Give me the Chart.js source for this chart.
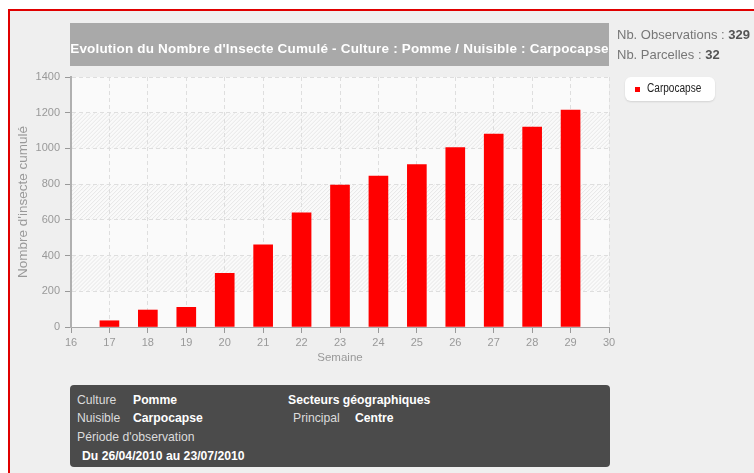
<!DOCTYPE html>
<html>
<head>
<meta charset="utf-8">
<script src="https://cdn.jsdelivr.net/npm/chart.js@4"></script>
<style>
  html, body { margin:0; padding:0; background:#ffffff; }
  body { width:754px; height:473px; position:relative; overflow:hidden; font-family:"Liberation Sans", Arial, sans-serif; }
  #frame { position:absolute; left:8px; top:9px; width:800px; height:500px; border-left:2px solid #e00000; border-top:2px solid #e00000; background:#efefef; }
  #cv { position:absolute; left:0; top:0; }
  #title { position:absolute; left:70px; top:23px; width:539px; height:43px; background:#a9a9a9; color:#fff; font-weight:bold; font-size:13.5px; line-height:51px; text-align:center; white-space:nowrap; letter-spacing:0.18px; }
  #stats { position:absolute; left:617px; top:25px; font-size:13px; color:#777; line-height:20px; white-space:nowrap; }
  #stats b { color:#555; }
  #legend { position:absolute; left:625px; top:77px; width:90px; height:24px; background:#fff; border-radius:6px; box-shadow:0 1px 2px rgba(0,0,0,0.12); font-size:12px; color:#222; }
  #legend .sw { position:absolute; left:10px; top:10px; width:5px; height:5px; }
  #legend .lt { position:absolute; left:22px; top:4px; transform:scaleX(0.84); transform-origin:left center; white-space:nowrap; }
  #info { position:absolute; left:70px; top:385px; width:540px; height:82px; background:#4b4b4b; border-radius:4px; font-size:12.2px; color:#dcdcdc; }
  #info div { position:absolute; white-space:nowrap; line-height:14px; }
  #info b { color:#fff; }
</style>
</head>
<body>
<div id="frame"></div>
<canvas id="cv" width="754" height="473"></canvas>
<div id="title">Evolution du Nombre d'Insecte Cumulé - Culture : Pomme / Nuisible : Carpocapse</div>
<div id="stats">Nb. Observations : <b>329</b><br>Nb. Parcelles : <b>32</b></div>
<div id="legend"></div>
<div id="info">
  <div style="left:7px;top:8px;">Culture</div><div style="left:63px;top:8px;"><b>Pomme</b></div>
  <div style="left:7px;top:26px;">Nuisible</div><div style="left:63px;top:26px;"><b>Carpocapse</b></div>
  <div style="left:7px;top:45px;">Période d'observation</div>
  <div style="left:12px;top:64px;"><b>Du 26/04/2010 au 23/07/2010</b></div>
  <div style="left:218px;top:8px;"><b>Secteurs géographiques</b></div>
  <div style="left:223px;top:26px;">Principal</div><div style="left:285px;top:26px;"><b>Centre</b></div>
</div>
<script>
const weeks = [17, 18, 19, 20, 21, 22, 23, 24, 25, 26, 27, 28, 29];
const cumulatedInsects = [35, 95, 110, 300, 460, 640, 795, 845, 910, 1005, 1080, 1120, 1215];
const seriesName = "Carpocapse";
const xTitle = "Semaine";
const yTitle = "Nombre d'insecte cumulé";
const xMin = 16, xMax = 30;
const yMin = 0, yMax = 1400, yStep = 200;

const barColor = '#ff0000';

document.getElementById('legend').innerHTML =
  '<span class="sw" style="background:' + barColor + '"></span><span class="lt">' + seriesName + '</span>';

const hatchPlugin = {
  id: 'hatch',
  beforeDraw(chart) {
    const {ctx, chartArea: a, scales} = chart;
    ctx.save();
    ctx.fillStyle = '#fafafa';
    ctx.fillRect(a.left, a.top, a.right - a.left, a.bottom - a.top);
    const ticks = scales.y.ticks;
    for (let i = 1; i < ticks.length - 1; i += 2) {
      const y1 = scales.y.getPixelForValue(ticks[i].value);
      const y2 = scales.y.getPixelForValue(ticks[i + 1].value);
      ctx.save();
      ctx.beginPath();
      ctx.rect(a.left, y2, a.right - a.left, y1 - y2);
      ctx.clip();
      ctx.strokeStyle = '#e6e6e6';
      ctx.lineWidth = 1;
      ctx.beginPath();
      const h = y1 - y2;
      for (let x = a.left - h; x < a.right + h; x += 4) {
        ctx.moveTo(x, y1);
        ctx.lineTo(x + h, y2);
      }
      ctx.stroke();
      ctx.restore();
    }
    ctx.restore();
  }
};

const tickFont = {family: '"Liberation Sans", Arial, sans-serif', size: 11};

new Chart(document.getElementById('cv'), {
  type: 'bar',
  data: {
    datasets: [{
      label: seriesName,
      data: weeks.map((w, i) => ({x: w, y: cumulatedInsects[i]})),
      backgroundColor: barColor,
      borderWidth: 0,
      barThickness: 19
    }]
  },
  options: {
    responsive: false,
    animation: false,
    events: [],
    layout: { padding: { left: 12, top: 77, right: 145, bottom: 104 } },
    plugins: { legend: { display: false }, title: { display: false }, tooltip: { enabled: false } },
    scales: {
      x: {
        type: 'linear',
        min: xMin, max: xMax,
        offset: false,
        grid: { offset: false, color: '#dedede', tickColor: '#999', tickLength: 6, drawTicks: true },
        border: { display: true, color: '#a8a8a8', width: 1, dash: [4, 3] },
        ticks: { stepSize: 1, color: '#999', font: tickFont, padding: 3, maxRotation: 0, autoSkip: false, callback: v => String(v) },
        title: { display: true, text: xTitle, color: '#999', font: {family: tickFont.family, size: 11.5}, padding: { top: 2, bottom: 4 } },
        afterFit(s) { s.height = 42; }
      },
      y: {
        min: yMin, max: yMax,
        grid: { color: '#dedede', tickColor: '#999', tickLength: 6 },
        border: { display: true, color: '#b0b0b0', width: 2, dash: [4, 3] },
        ticks: { stepSize: yStep, color: '#999', font: tickFont, padding: 5, callback: v => String(v) },
        title: { display: true, text: yTitle, color: '#999', font: {family: tickFont.family, size: 13.5}, padding: { top: 3, bottom: 2 } },
        afterFit(s) { s.width = 59; }
      }
    }
  },
  plugins: [hatchPlugin]
});
</script>
</body>
</html>
